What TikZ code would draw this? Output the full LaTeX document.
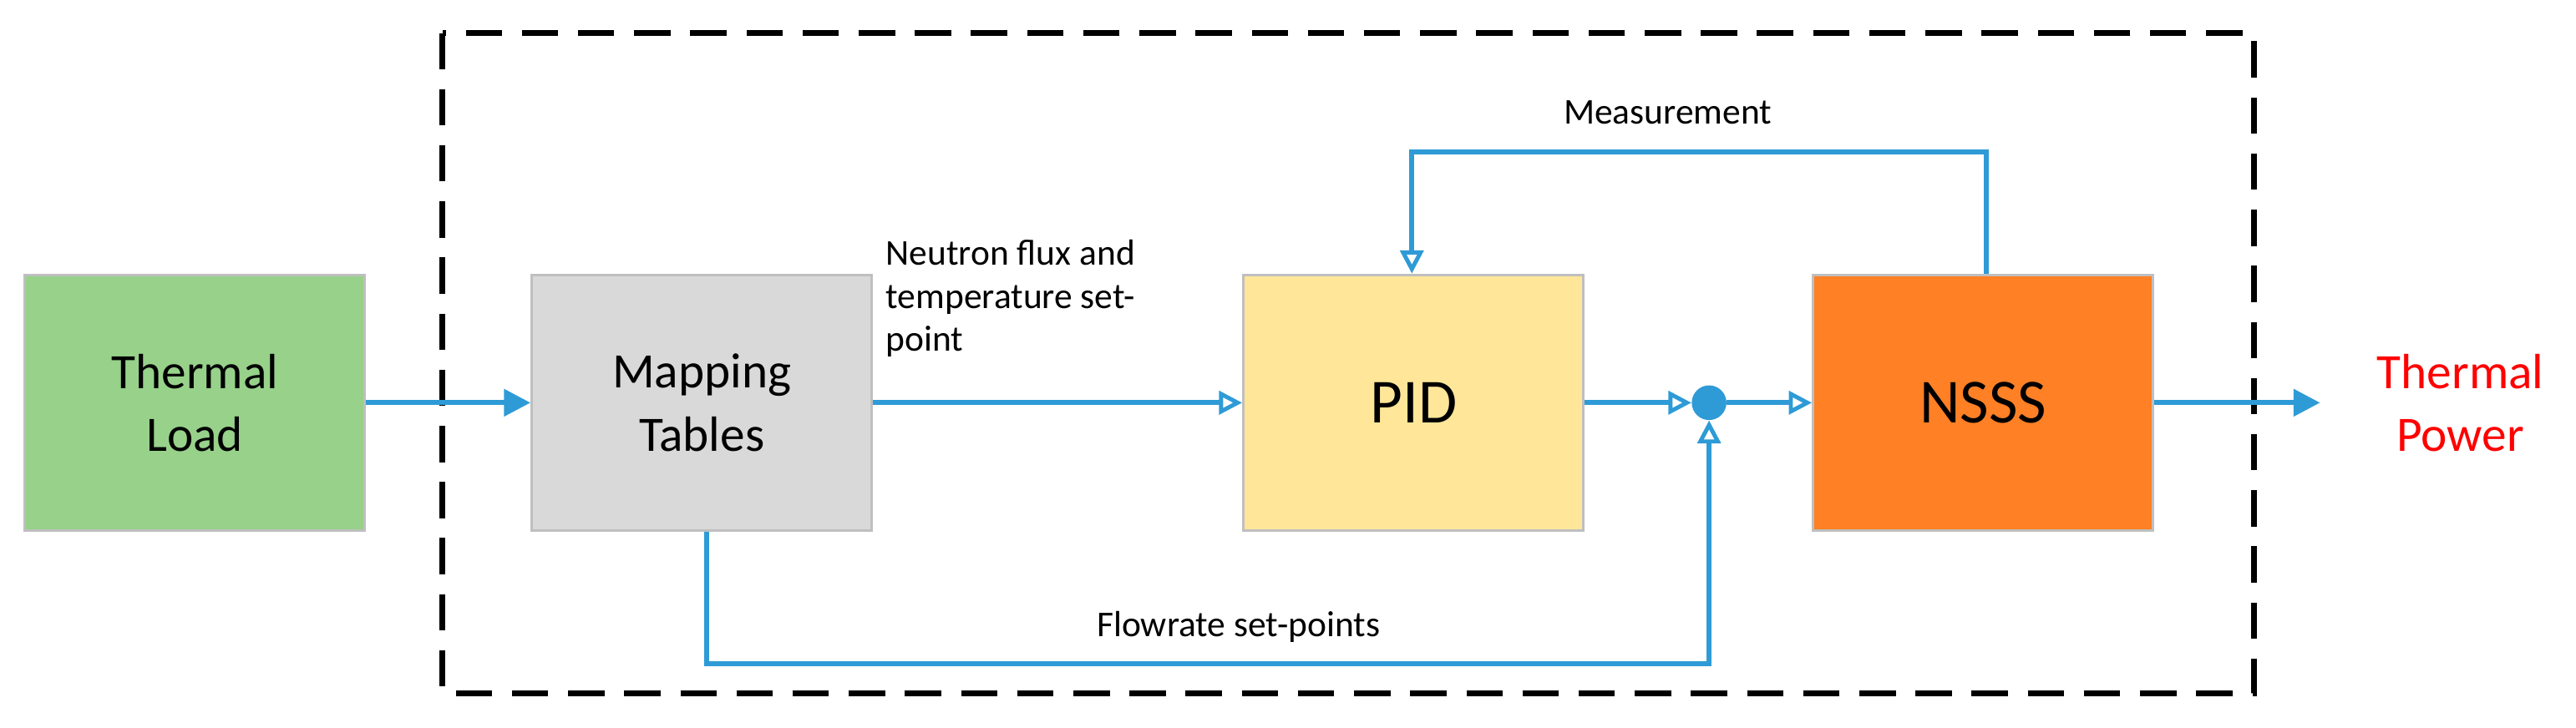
\documentclass[tikz,border=0pt]{standalone}
\usepackage{fontspec}
\setmainfont{Carlito}
\usetikzlibrary{arrows.meta}
\definecolor{ln}{HTML}{2E9BD6}
\definecolor{gr}{HTML}{97D18A}
\definecolor{gy}{HTML}{D9D9D9}
\definecolor{yl}{HTML}{FFE699}
\definecolor{og}{HTML}{FF8025}
\definecolor{bd}{HTML}{BFBFBF}
\begin{document}
\begin{tikzpicture}[x=1pt,y=-1pt,
 box/.style={draw=bd,line width=1.5pt,minimum width=206pt,minimum height=155pt,inner sep=0pt,align=center},
 con/.style={draw=ln,line width=3pt},
 opn/.style={-{Triangle[open,length=14pt,width=14pt,line width=2.5pt]}},
 fil/.style={-{Triangle[length=16pt,width=16pt]}},
 lab/.style={font=\fontsize{22}{26}\selectfont,align=left}]
\useasboundingbox (0,0) rectangle (1560,441);
\draw[dash pattern=on 22pt off 12pt,line width=3.5pt] (268,20) rectangle (1365,420);
\node[box,fill=gr,font=\fontsize{30}{38}\selectfont] (tl) at (118,244) {Thermal\\Load};
\node[box,fill=gy,font=\fontsize{30}{38}\selectfont] (mt) at (425,244) {Mapping\\Tables};
\node[box,fill=yl,font=\fontsize{38}{44}\selectfont] (pid) at (856,244) {PID};
\node[box,fill=og,font=\fontsize{38}{44}\selectfont] (nsss) at (1201,244) {NSSS};
\node[circle,fill=ln,minimum size=21pt,inner sep=0pt] (sum) at (1035,244) {};
\coordinate (out) at (1405,244);
\node[text=red,font=\fontsize{30}{38}\selectfont,align=center] (tp) at (1490,244) {Thermal\\Power};
\draw[con,fil] (tl.east) -- (mt.west);
\draw[con,opn] (mt.east) -- (pid.west);
\draw[con,opn] (pid.east) -- (sum.west);
\draw[con,opn] (sum.east) -- (nsss.west);
\draw[con,fil] (nsss.east) -- (out);
\coordinate (m1) at (1203,92);
\coordinate (m2) at (855,92);
\draw[con,opn] (nsss.north -| m1) -- (m1) -- (m2) -- (pid.north -| m2);
\coordinate (f1) at (428,402);
\coordinate (f2) at (1035,402);
\draw[con,opn] (mt.south -| f1) -- (f1) -- (f2) -- (sum.south);
\node[lab,anchor=north west] (nl) at (533,142) {Neutron flux and\\temperature set-\\point};
\node[lab] (ml) at (1010,68) {Measurement};
\node[lab] (fl) at (750,380) {Flowrate set-points};
\end{tikzpicture}
\end{document}
